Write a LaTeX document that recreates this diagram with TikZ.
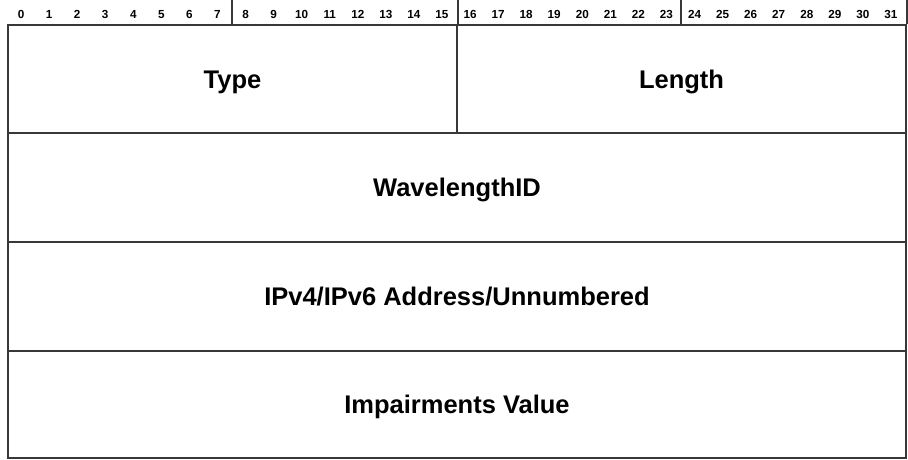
\documentclass[tikz,border=0pt]{standalone}
\usepackage{fontspec}
\setmainfont{Liberation Sans}
\begin{document}
\begin{tikzpicture}[x=1pt,y=-1pt,
  field/.style={draw=black!78, line width=2pt, anchor=north west, inner sep=0pt,
    text height=18.3pt, text depth=0pt,
    font=\fontsize{25.5}{30}\selectfont\bfseries},
  bitnum/.style={inner sep=0pt, anchor=base, font=\fontsize{11.7}{13}\selectfont\bfseries},
  tick/.style={draw=black!78, line width=2pt}]
\useasboundingbox (0,0) rectangle (908,459);
\node[field, minimum width=449pt, minimum height=108pt] (type) at (7,24) {Type};
\node[field, minimum width=449pt, minimum height=108pt] (length) at (456,24) {Length};
\node[field, minimum width=898pt, minimum height=109pt] (wave) at (7,132) {WavelengthID};
\node[field, minimum width=898pt, minimum height=109pt] (addr) at (7,241) {IPv4/IPv6 Address/Unnumbered};
\node[field, minimum width=898pt, minimum height=107pt] (imp) at (7,350) {Impairments Value};
\foreach \i in {0,...,31}{
  \node[bitnum] (b\i) at ({7+28.0625*(\i+0.5)},18.5) {\i};
}
\coordinate (t8) at (231.5,24);
\draw[tick] (t8) -- ++(0,-24);
\draw[tick] (type.north east) -- ++(0,-24);
\coordinate (t24) at (680.5,24);
\draw[tick] (t24) -- ++(0,-24);
\draw[tick] (length.north east) -- ++(0,-24);
\end{tikzpicture}
\end{document}
